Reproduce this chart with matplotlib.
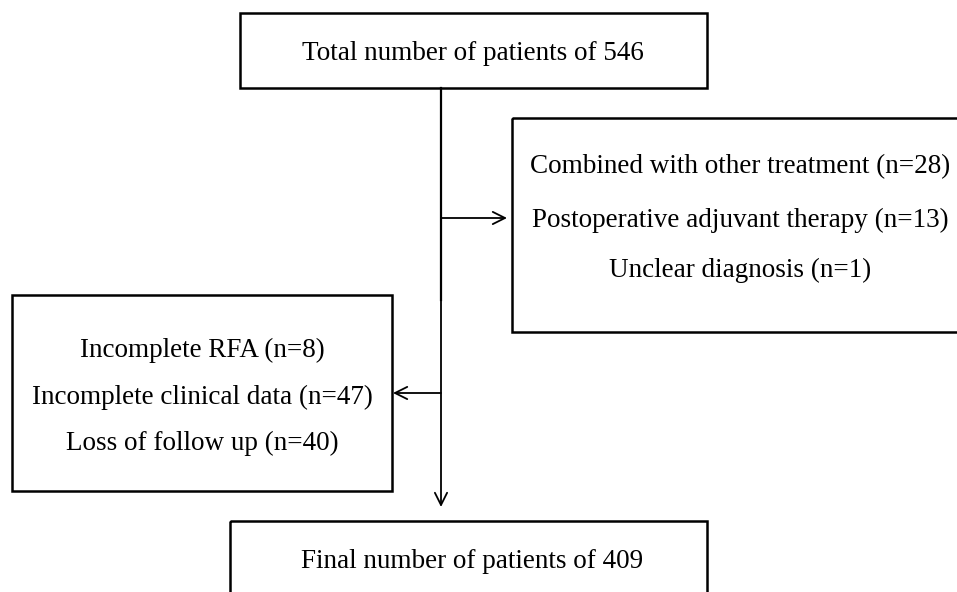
import matplotlib
matplotlib.use("Agg")
import matplotlib.pyplot as plt
from matplotlib.patches import Rectangle

# ---- data (texts of the flowchart) ----
top_text = ["Total number of patients of 546"]
right_texts = ["Combined with other treatment (n=28)",
               "Postoperative adjuvant therapy (n=13)",
               "Unclear diagnosis (n=1)"]
left_texts = ["Incomplete RFA (n=8)",
              "Incomplete clinical data (n=47)",
              "Loss of follow up (n=40)"]
bottom_text = ["Final number of patients of 409"]

W, H = 957, 592
fig = plt.figure(figsize=(W / 100, H / 100), dpi=100)
ax = fig.add_axes([0, 0, 1, 1])
ax.set_xlim(0, W)
ax.set_ylim(H, 0)
ax.axis("off")

FONT = "Liberation Serif"
FS = 19.5
BLW = 1.8


def box(x0, y0, x1, y1):
    ax.add_patch(Rectangle((x0, y0), x1 - x0, y1 - y0, fill=False,
                           edgecolor="black", linewidth=BLW))


def texts(lines, cx, ys):
    for t, y in zip(lines, ys):
        ax.text(cx, y + 2, t, ha="center", va="center", fontsize=FS,
                family=FONT, color="black")


# boxes
box(240, 13, 707, 88)
texts(top_text, 473, [52])
box(512, 118, 970, 332)
texts(right_texts, 740, [165, 218, 268])
box(12, 295, 392, 491)
texts(left_texts, 202, [348, 395, 441])
box(230, 521, 707, 600)
texts(bottom_text, 472, [560])

# connectors
ax.plot([441, 441], [88, 300], color="black", lw=1.6)
arrow = dict(arrowstyle="->", color="black", lw=1.3, mutation_scale=22,
             shrinkA=0, shrinkB=0)
ax.annotate("", xy=(441, 507), xytext=(441, 299), arrowprops=arrow)
ax.annotate("", xy=(507, 218), xytext=(441, 218), arrowprops=arrow)
ax.annotate("", xy=(393, 393), xytext=(441, 393), arrowprops=arrow)

fig.savefig("out.png", dpi=100)
